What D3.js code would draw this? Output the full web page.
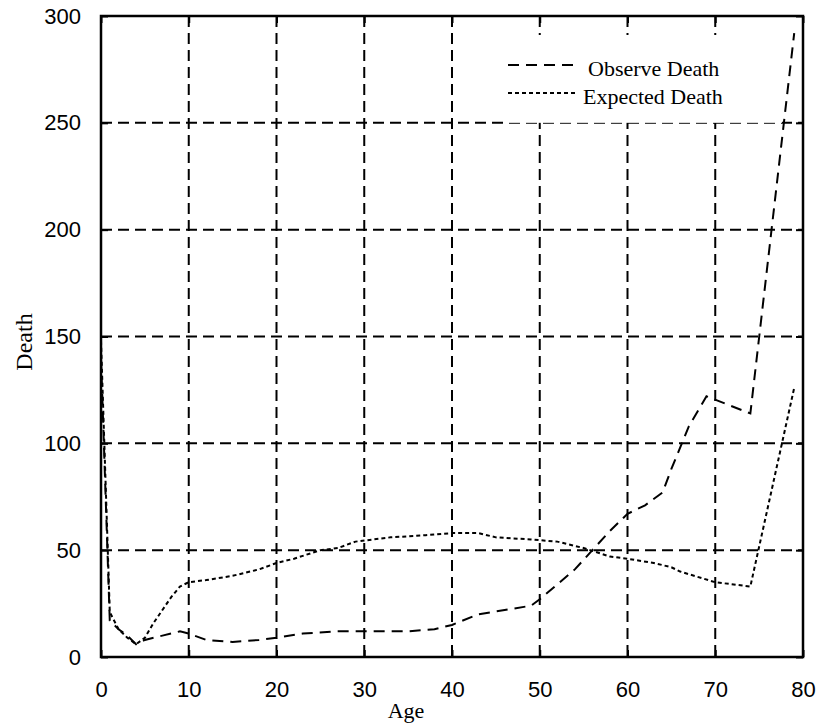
<!DOCTYPE html>
<html>
<head>
<meta charset="utf-8">
<script src="https://cdn.jsdelivr.net/npm/d3@7"></script>
<style>
  body { margin: 0; background: #fff; }
  svg { display: block; }
</style>
</head>
<body>
<svg id="chart"></svg>
<script>
// data
const observeAge = [0, 1, 2, 3, 4, 5, 6, 7, 8, 9, 10, 12, 15, 18, 20, 23, 27, 30, 35, 38, 40, 43, 46, 49, 50, 52, 54, 56, 58, 60, 62, 64, 65, 67, 69, 74, 79];
const observeDeath = [140, 17, 13, 10, 6, 8, 9, 10, 11, 12, 11, 8, 7, 8, 9, 11, 12, 12, 12, 13, 15, 20, 22, 24, 27, 34, 41, 50, 59, 67, 71, 77, 88, 108, 122, 114, 292];

const expectAge = [0, 1, 2, 3, 4, 5, 6, 7, 8, 9, 10, 12, 15, 18, 20, 22, 25, 27, 29, 33, 37, 40, 43, 45, 49, 52, 55, 58, 60, 63, 65, 66, 70, 74, 79];
const expectDeath = [148, 21, 13, 9, 6, 9, 16, 22, 28, 33, 35, 36, 38, 41, 44, 46, 50, 51, 54, 56, 57, 58, 58, 56, 55, 54, 51, 47, 46, 44, 42, 40, 35, 33, 126];

const xTicks = [0, 10, 20, 30, 40, 50, 60, 70, 80];
const yTicks = [0, 50, 100, 150, 200, 250, 300];
const seriesNames = ['Observe Death', 'Expected Death'];

class LineChart {

    constructor( config ) {
        this.config = {
            parent: config.parent,
            width: config.width || 256,
            height: config.height || 256,
            margin: config.margin || {top:10, right:10, bottom:10, left:10}
        }
        this.init();
    }

    init() {
        let self = this;

        self.svg = d3.select( self.config.parent )
            .attr('width', self.config.width)
            .attr('height', self.config.height);

        self.chart = self.svg.append('g')
            .attr('transform', `translate(${self.config.margin.left}, ${self.config.margin.top})`);

        self.inner_width = self.config.width - self.config.margin.left - self.config.margin.right;
        self.inner_height = self.config.height - self.config.margin.top - self.config.margin.bottom;

        self.xscale = d3.scaleLinear()
            .domain([0, 80])
            .range([0, self.inner_width]);

        self.yscale = d3.scaleLinear()
            .domain([0, 300])
            .range([self.inner_height, 0]);

        // axis titles
        self.svg.append('text')
            .style('font-family', '"Liberation Serif", "Times New Roman", serif')
            .style('font-size', '22px')
            .attr('x', 406)
            .attr('y', 718)
            .attr('text-anchor', 'middle')
            .text('Age');

        self.svg.append('text')
            .style('font-family', '"Liberation Serif", "Times New Roman", serif')
            .style('font-size', '24px')
            .attr('transform', `translate(32, 342) rotate(-90)`)
            .attr('text-anchor', 'middle')
            .text('Death');
    }

    render() {
        let self = this;
        const W = self.inner_width, H = self.inner_height;

        // dashed grid
        const grid = self.chart.append('g')
            .attr('stroke', '#000')
            .attr('stroke-width', 2)
            .attr('stroke-dasharray', '11,6');

        grid.selectAll('.vgrid')
            .data(xTicks.slice(1, -1))
            .join('line')
            .attr('x1', d => self.xscale(d))
            .attr('x2', d => self.xscale(d))
            .attr('y1', 0)
            .attr('y2', H);

        grid.selectAll('.hgrid')
            .data(yTicks.slice(1, -1))
            .join('line')
            .attr('x1', 0)
            .attr('x2', W)
            .attr('y1', d => self.yscale(d))
            .attr('y2', d => self.yscale(d));

        // legend box hides the grid behind it
        self.chart.append('rect')
            .attr('x', 404)
            .attr('y', 19)
            .attr('width', 277)
            .attr('height', self.yscale(250) - 19)
            .attr('fill', '#fff');

        // lines
        const line = d3.line()
            .x( d => self.xscale(d[0]) )
            .y( d => self.yscale(d[1]) );

        const obs = observeAge.map((a, i) => [a, observeDeath[i]]);
        const exp = expectAge.map((a, i) => [a, expectDeath[i]]);

        self.chart.append('path')
            .attr('d', line(obs))
            .attr('stroke', '#000')
            .attr('stroke-width', 2)
            .attr('stroke-dasharray', '11,7')
            .attr('fill', 'none');

        self.chart.append('path')
            .attr('d', line(exp))
            .attr('stroke', '#000')
            .attr('stroke-width', 2)
            .attr('stroke-dasharray', '4,3')
            .attr('fill', 'none');

        // axes with inward ticks
        const tickFont = g => g.selectAll('text')
            .style('font-family', '"Liberation Sans", Arial, sans-serif')
            .style('font-size', '22px')
            .attr('fill', '#000');

        self.chart.append('g')
            .attr('transform', `translate(0, ${H})`)
            .call( d3.axisBottom(self.xscale).tickValues(xTicks).tickSizeInner(-7).tickSizeOuter(0).tickPadding(24) )
            .call(tickFont)
            .call(g => g.select('.domain').remove());

        self.chart.append('g')
            .call( d3.axisTop(self.xscale).tickValues(xTicks).tickSizeInner(-7).tickSizeOuter(0).tickFormat('') )
            .call(g => g.select('.domain').remove());

        self.chart.append('g')
            .call( d3.axisLeft(self.yscale).tickValues(yTicks).tickSizeInner(-7).tickSizeOuter(0).tickPadding(20) )
            .call(tickFont)
            .call(g => g.select('.domain').remove());

        self.chart.append('g')
            .attr('transform', `translate(${W}, 0)`)
            .call( d3.axisRight(self.yscale).tickValues(yTicks).tickSizeInner(-7).tickSizeOuter(0).tickFormat('') )
            .call(g => g.select('.domain').remove());

        self.chart.selectAll('.tick line')
            .attr('stroke', '#000')
            .attr('stroke-width', 2);

        // frame
        self.chart.append('rect')
            .attr('width', W)
            .attr('height', H)
            .attr('fill', 'none')
            .attr('stroke', '#000')
            .attr('stroke-width', 2.5);

        // legend
        const legend = self.svg.append('g');
        const dashes = ['11,7', '4,3'];
        const rowsY = [65, 93];
        const textX = [588, 583];
        seriesNames.forEach((name, i) => {
            legend.append('line')
                .attr('x1', 508)
                .attr('x2', 577)
                .attr('y1', rowsY[i])
                .attr('y2', rowsY[i])
                .attr('stroke', '#000')
                .attr('stroke-width', 2)
                .attr('stroke-dasharray', dashes[i]);
            legend.append('text')
                .style('font-family', '"Liberation Serif", "Times New Roman", serif')
                .style('font-size', '22px')
                .attr('x', textX[i])
                .attr('y', rowsY[i] + 11)
                .text(name);
        });
    }
}

const chart = new LineChart({
    parent: '#chart',
    width: 819,
    height: 728,
    margin: {top: 16, right: 16, bottom: 71, left: 101}
});
chart.render();
</script>
</body>
</html>
